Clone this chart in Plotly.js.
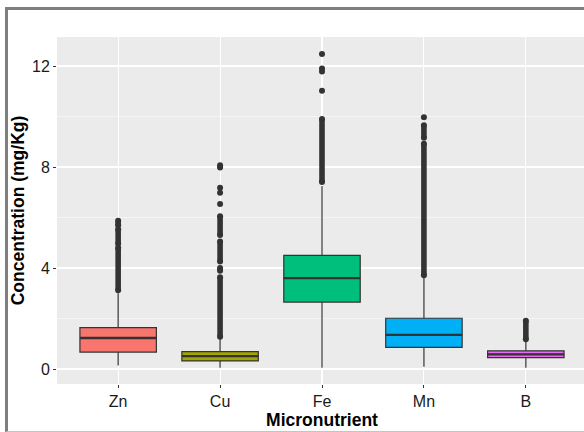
<!DOCTYPE html>
<html>
<head>
<meta charset="utf-8">
<script src="https://cdn.plot.ly/plotly-3.0.1.min.js"></script>
<style>
  html, body { margin: 0; padding: 0; width: 584px; height: 432px; overflow: hidden; background: #ffffff; }
  #frame { position: absolute; left: 5px; top: 7px; width: 600px; height: 421px;
           border-left: 3px solid #7f7f7f; border-top: 3px solid #7f7f7f; border-bottom: 1px solid #c4c4c4; }
  #chart { position: absolute; left: 0; top: 0; width: 592px; height: 421px; }
</style>
</head>
<body>
<div id="frame"><div id="chart"></div></div>
<script>
// ---- data ----
const categories = ['Zn', 'Cu', 'Fe', 'Mn', 'B'];
const boxColors = ['#F8766D', '#A3A500', '#00BF7D', '#00B0F6', '#E76BF3'];
const lowerWhisker = [0.14, 0.05, 0.05, 0.09, 0.05];
const q1 = [0.67, 0.32, 2.65, 0.86, 0.45];
const median = [1.23, 0.51, 3.60, 1.35, 0.58];
const q3 = [1.64, 0.69, 4.50, 2.01, 0.72];
const upperWhisker = [3.00, 1.20, 7.25, 3.60, 1.08];

// dense outlier runs [low, high] (overlapping points) per category
const znRuns = [[3.12, 4.80], [4.96, 5.53], [5.69, 5.87]];
const cuRuns = [[1.28, 3.63], [3.89, 4.00], [4.26, 5.05], [5.31, 6.05]];
const feRuns = [[7.41, 9.90]];
const mnRuns = [[3.71, 8.92], [9.16, 9.65]];
const bRuns = [[1.18, 1.91]];
// isolated outliers per category
const znPoints = [];
const cuPoints = [6.53, 6.98, 7.18, 7.98, 8.07];
const fePoints = [11.02, 11.78, 11.90, 12.48];
const mnPoints = [9.97];
const bPoints = [];

const yTickVals = [0, 4, 8, 12];
const yTickText = ['0', '4', '8', '12'];

// ---- build traces ----
const BOX_W = 0.75;
const DARK = '#333333';
const TEXT = '#1a1a1a';
const traces = [];

categories.forEach((c, i) => {
  traces.push({
    type: 'box',
    x: [i + 1],
    q1: [q1[i]], median: [median[i]], q3: [q3[i]],
    lowerfence: [lowerWhisker[i]], upperfence: [upperWhisker[i]],
    width: BOX_W,
    fillcolor: boxColors[i],
    line: { color: DARK, width: 1.2 },
    whiskerwidth: 0,
    boxpoints: false,
    hoverinfo: 'skip',
    showlegend: false
  });
});

// thicker median lines (ggplot fatten)
const mx = [], my = [];
categories.forEach((c, i) => {
  mx.push(i + 1 - BOX_W / 2, i + 1 + BOX_W / 2, null);
  my.push(median[i], median[i], null);
});
traces.push({ type: 'scatter', mode: 'lines', x: mx, y: my,
  line: { color: DARK, width: 2.4 }, hoverinfo: 'skip', showlegend: false });

// outliers
const allRuns = [znRuns, cuRuns, feRuns, mnRuns, bRuns];
const allPoints = [znPoints, cuPoints, fePoints, mnPoints, bPoints];
const rx = [], ry = [], px = [], py = [];
allRuns.forEach((runs, i) => {
  runs.forEach(r => { rx.push(i + 1, i + 1, null); ry.push(r[0], r[1], null); });
});
allPoints.forEach((pts, i) => {
  pts.forEach(v => { px.push(i + 1); py.push(v); });
});
traces.push({ type: 'scatter', mode: 'lines+markers', x: rx, y: ry,
  line: { color: DARK, width: 5.6 }, marker: { color: DARK, size: 6 },
  hoverinfo: 'skip', showlegend: false });
traces.push({ type: 'scatter', mode: 'markers', x: px, y: py,
  marker: { color: DARK, size: 6 }, hoverinfo: 'skip', showlegend: false });

const font = 'Liberation Sans, Arial, Helvetica, sans-serif';
const layout = {
  width: 592, height: 421,
  margin: { l: 49, r: 13, t: 27, b: 47 },
  paper_bgcolor: '#ffffff',
  plot_bgcolor: '#EBEBEB',
  showlegend: false,
  boxmode: 'overlay',
  font: { family: font, color: TEXT },
  xaxis: {
    range: [0.4, 5.6],
    tickvals: [1, 2, 3, 4, 5], ticktext: categories,
    ticks: 'outside', ticklen: 3, tickwidth: 1, tickcolor: DARK,
    showgrid: true, gridcolor: '#ffffff', gridwidth: 1.1,
    zeroline: false, showline: false,
    tickfont: { family: font, size: 16, color: TEXT },
    title: { text: 'Micronutrient', font: { family: font, size: 17.5, color: '#000000', weight: 'bold' }, standoff: 4 },
    automargin: false, fixedrange: true
  },
  yaxis: {
    range: [-0.594, 13.149],
    tickvals: yTickVals, ticktext: yTickText,
    ticks: 'outside', ticklen: 3, tickwidth: 1, tickcolor: DARK,
    showgrid: true, gridcolor: '#ffffff', gridwidth: 1.1,
    minor: { dtick: 2, tick0: 0, showgrid: true, gridcolor: '#ffffff', gridwidth: 0.5, ticks: '' },
    zeroline: false, showline: false,
    tickfont: { family: font, size: 16, color: TEXT },
    title: { text: 'Concentration (mg/Kg)', font: { family: font, size: 17.5, color: '#000000', weight: 'bold' }, standoff: 4 },
    automargin: false, fixedrange: true
  }
};

Plotly.newPlot('chart', traces, layout, { staticPlot: true, displayModeBar: false });
</script>
</body>
</html>
